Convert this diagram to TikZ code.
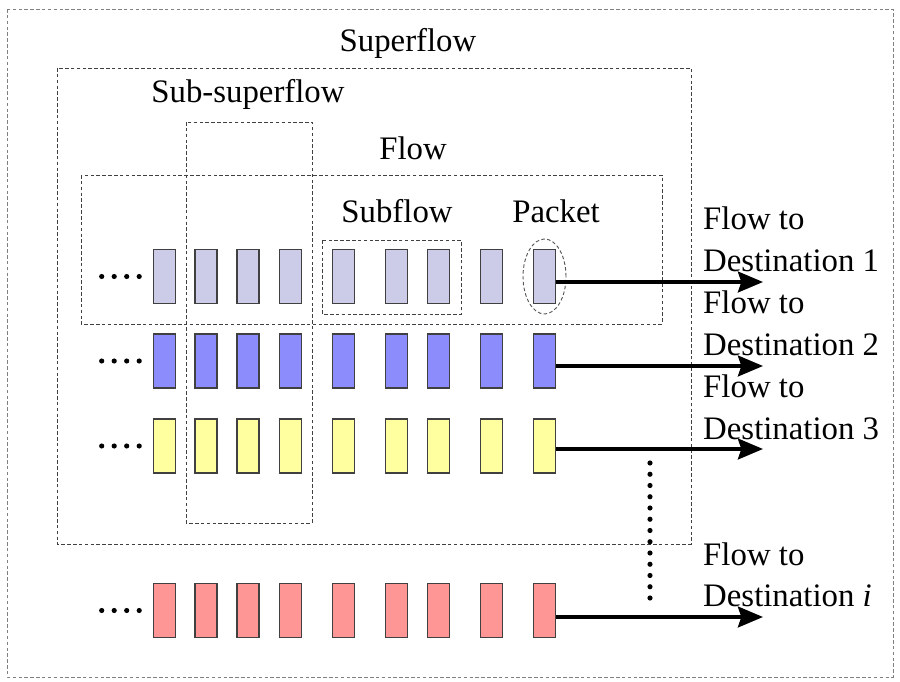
\documentclass[tikz,border=0pt]{standalone}
\usepackage{fontspec}
\setmainfont{Liberation Serif}
\usetikzlibrary{arrows.meta}
\definecolor{lav}{RGB}{204,204,232}
\definecolor{blu}{RGB}{140,140,252}
\definecolor{yel}{RGB}{255,255,160}
\definecolor{sal}{RGB}{255,150,150}
\begin{document}
\begin{tikzpicture}[x=0.03cm,y=-0.03cm,
    pkt/.style={draw=black!75,line width=0.9pt,minimum width=0.66cm,minimum height=1.62cm,inner sep=0pt},
    grp/.style={draw=black!75,line width=0.8pt,dash pattern=on 3pt off 2pt},
    lbl/.style={font=\fontsize{28}{35}\selectfont,inner sep=0pt},
    flowarrow/.style={line width=3.4pt,-{Stealth[length=0.75cm,width=0.62cm,inset=0.1cm]}},
    more/.style={line width=4.4pt,line cap=round,dash pattern=on 0pt off 0.375cm}]
      \useasboundingbox (0,0) rectangle (900,682);
      \draw[grp,draw=black!50] (7,9) rectangle (893,677);
      \draw[grp] (57,68) rectangle (691,544);
      \draw[grp] (186,122) rectangle (312,523);
      \draw[grp] (81,175) rectangle (662,324);
      \draw[grp] (322,240) rectangle (461,314);
      \path[every node/.style={pkt,fill=lav}]
        (164.5,276.5) node (a1){}
        (206,276.5) node (a2){}
        (248,276.5) node (a3){}
        (290.5,276.5) node (a4){}
        (343.5,276.5) node (a5){}
        (396.5,276.5) node (a6){}
        (438.5,276.5) node (a7){}
        (491.5,276.5) node (a8){}
        (544.5,276.5) node (a9){};
      \path[every node/.style={pkt,fill=blu}]
        (164.5,361) node (b1){}
        (206,361) node (b2){}
        (248,361) node (b3){}
        (290.5,361) node (b4){}
        (343.5,361) node (b5){}
        (396.5,361) node (b6){}
        (438.5,361) node (b7){}
        (491.5,361) node (b8){}
        (544.5,361) node (b9){};
      \path[every node/.style={pkt,fill=yel}]
        (164.5,446) node (c1){}
        (206,446) node (c2){}
        (248,446) node (c3){}
        (290.5,446) node (c4){}
        (343.5,446) node (c5){}
        (396.5,446) node (c6){}
        (438.5,446) node (c7){}
        (491.5,446) node (c8){}
        (544.5,446) node (c9){};
      \path[every node/.style={pkt,fill=sal}]
        (164.5,610.5) node (i1){}
        (206,610.5) node (i2){}
        (248,610.5) node (i3){}
        (290.5,610.5) node (i4){}
        (343.5,610.5) node (i5){}
        (396.5,610.5) node (i6){}
        (438.5,610.5) node (i7){}
        (491.5,610.5) node (i8){}
        (544.5,610.5) node (i9){};
      \draw[grp,draw=black!65] (a9) ellipse [x radius=0.645cm,y radius=1.125cm];
      \draw[lbl]
        (408,52) node[anchor=base] (super){Superflow}
        (248,103) node[anchor=base] (subsuper){Sub-superflow}
        (413,160) node[anchor=base] (flow){Flow}
        (397,223) node[anchor=base] (subflow){Subflow}
        (556,223) node[anchor=base] (packet){Packet}
        (703,207) node[anchor=north west,align=left] (t1){Flow to\\Destination 1}
        (703,291) node[anchor=north west,align=left] (t2){Flow to\\Destination 2}
        (703,375) node[anchor=north west,align=left] (t3){Flow to\\Destination 3}
        (703,542) node[anchor=north west,align=left] (ti){Flow to\\Destination \textit{i}};
      \coordinate (d1) at (763,282);
      \coordinate (d2) at (763,366);
      \coordinate (d3) at (763,449);
      \coordinate (di) at (763,617);
      \begin{scope}[flowarrow]
        \draw (a9.east |- d1) to (d1);
        \draw (b9.east |- d2) to (d2);
        \draw (c9.east |- d3) to (d3);
        \draw (i9.east |- di) to (di);
      \end{scope}
      \begin{scope}[more]
        \draw (101.7,276.5) to (140,276.5);
        \draw (101.7,361) to (140,361);
        \draw (101.7,446) to (140,446);
        \draw (101.7,610.5) to (140,610.5);
        \draw[dash pattern=on 0pt off 0.3375cm] (650,463) to (650,598.5);
      \end{scope}
    \end{tikzpicture}
\end{document}
